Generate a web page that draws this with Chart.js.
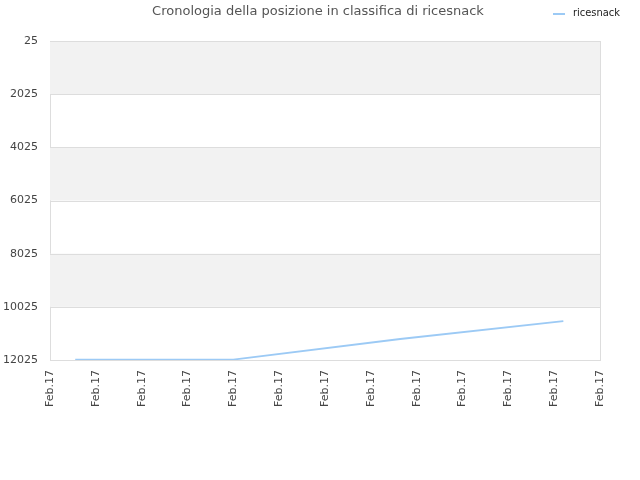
<!DOCTYPE html>
<html>
<head>
<meta charset="utf-8">
<script src="https://cdn.jsdelivr.net/npm/chart.js@4/dist/chart.umd.min.js"></script>
<style>
  html, body { margin: 0; padding: 0; background: #fff; }
  #wrap { width: 640px; height: 480px; }
</style>
</head>
<body>
<div id="wrap"><canvas id="rankChart"></canvas></div>
<script>
// ---- data ----
const titleText = 'Cronologia della posizione in classifica di ricesnack';
const seriesName = 'ricesnack';
const xTickLabels = ['Feb.17', 'Feb.17', 'Feb.17', 'Feb.17', 'Feb.17', 'Feb.17', 'Feb.17',
                     'Feb.17', 'Feb.17', 'Feb.17', 'Feb.17', 'Feb.17', 'Feb.17'];
const pointX = [0.55, 4.0, 7.64, 11.2];
const rankValues = [12010, 12010, 11235, 10560];
const yMin = 25;
const yMax = 12025;
const yStep = 2000;

const LINE_COLOR = '#9ccaf5';

// alternating grey bands, grid lines and right border of the plot area
const bandsPlugin = {
  id: 'bands',
  beforeDatasetsDraw(chart) {
    const { ctx, chartArea, scales } = chart;
    const y = scales.y;
    ctx.save();
    ctx.fillStyle = '#f2f2f2';
    let band = 0;
    for (let v = yMin; v < yMax; v += yStep, band++) {
      if (band % 2 !== 0) continue;
      const y1 = y.getPixelForValue(v);
      const y2 = y.getPixelForValue(Math.min(v + yStep, yMax));
      ctx.fillRect(chartArea.left, y1, chartArea.right - chartArea.left, y2 - y1);
    }
    ctx.strokeStyle = '#dddddd';
    ctx.lineWidth = 1;
    for (let v = yMin; v <= yMax; v += yStep) {
      const py = Math.round(y.getPixelForValue(v)) + 0.5;
      ctx.beginPath();
      ctx.moveTo(chartArea.left, py);
      ctx.lineTo(chartArea.right, py);
      ctx.stroke();
    }
    const rx = Math.round(chartArea.right) + 0.5;
    ctx.beginPath();
    ctx.moveTo(rx, chartArea.top);
    ctx.lineTo(rx, chartArea.bottom);
    ctx.stroke();
    ctx.restore();
  },
  afterDraw(chart) {
    const { ctx } = chart;
    ctx.save();
    ctx.font = '13px "DejaVu Sans", sans-serif';
    ctx.fillStyle = '#555555';
    ctx.textAlign = 'center';
    ctx.textBaseline = 'middle';
    ctx.fillText(titleText, 318, 12);
    // legend
    ctx.strokeStyle = LINE_COLOR;
    ctx.lineWidth = 2;
    ctx.beginPath();
    ctx.moveTo(553, 14);
    ctx.lineTo(565, 14);
    ctx.stroke();
    ctx.font = '11px "DejaVu Sans Condensed", "DejaVu Sans", sans-serif';
    ctx.fillStyle = '#222222';
    ctx.textAlign = 'left';
    ctx.fillText(seriesName, 573, 13);
    ctx.restore();
  }
};

new Chart(document.getElementById('rankChart'), {
  type: 'line',
  data: {
    datasets: [{
      label: seriesName,
      data: pointX.map((x, i) => ({ x, y: rankValues[i] })),
      borderColor: LINE_COLOR,
      backgroundColor: LINE_COLOR,
      borderWidth: 1.8,
      pointRadius: 0,
      tension: 0,
      fill: false,
    }],
  },
  options: {
    responsive: true,
    maintainAspectRatio: false,
    animation: false,
    layout: { padding: { top: 41, right: 40, left: 0, bottom: 0 } },
    plugins: {
      legend: { display: false },
      title: { display: false },
      tooltip: { enabled: false },
    },
    scales: {
      x: {
        type: 'linear',
        min: 0,
        max: xTickLabels.length - 1,
        grid: { display: false, drawTicks: false },
        border: { color: '#dddddd' },
        ticks: {
          stepSize: 1,
          autoSkip: false,
          minRotation: 90,
          maxRotation: 90,
          padding: 10,
          color: '#444444',
          font: { family: 'DejaVu Sans', size: 11 },
          callback: (v, i) => xTickLabels[i],
        },
        afterFit(scale) { scale.height = 120; },
      },
      y: {
        reverse: true,
        min: yMin,
        max: yMax,
        grid: { display: false, drawTicks: false },
        border: { color: '#dddddd' },
        ticks: {
          stepSize: yStep,
          padding: 12,
          color: '#444444',
          font: { family: 'DejaVu Sans', size: 11 },
          callback: (v) => String(v),
        },
        afterFit(scale) { scale.width = 50; },
      },
    },
  },
  plugins: [bandsPlugin],
});
</script>
</body>
</html>
